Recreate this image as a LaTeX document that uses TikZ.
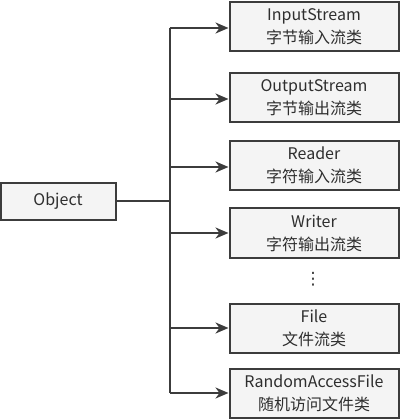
\documentclass[tikz,border=0pt]{standalone}
\usepackage{fontspec}
\setmainfont{Noto Sans CJK SC}
\newfontfamily\symfont{DejaVu Sans}
\usetikzlibrary{arrows.meta}
\definecolor{edge}{HTML}{3C3C3C}
\definecolor{boxfill}{HTML}{F4F4F4}
\definecolor{ink}{HTML}{2E2E2E}
\begin{document}
\begin{tikzpicture}[x=1pt,y=-1pt,
    every node/.style={draw=edge,fill=boxfill,line width=2pt,text=ink,align=center,inner sep=0pt,
        font=\fontsize{16}{23}\selectfont},
    classbox/.style={minimum width=169pt,minimum height=49pt},
    link/.style={draw=edge,line width=2pt},
    arr/.style={link,-{Stealth[length=13pt,width=11pt,inset=4pt]}}]
    \useasboundingbox (0,0) rectangle (400,419);
    \node[minimum width=115pt,minimum height=36pt] (obj) at (58,201.5) {Object};
    \node[classbox] (in) at (314,26.5) {InputStream\\字节输入流类};
    \node[classbox] (out) at (314,97.5) {OutputStream\\字节输出流类};
    \node[classbox] (rd) at (314,165.5) {Reader\\字符输入流类};
    \node[classbox] (wr) at (314,233) {Writer\\字符输出流类};
    \node[draw=none,fill=none,font=\symfont\fontsize{17}{20}\selectfont] (dots) at (313,279) {⋮};
    \node[classbox] (file) at (314,328) {File\\文件流类};
    \node[classbox] (raf) at (314,393) {RandomAccessFile\\随机访问文件类};
    \coordinate (top) at (169.5,28);
    \coordinate (bot) at (169.5,393);
    \draw[link] (top) -- (bot);
    \draw[link] (obj.east) -- (obj.east -| top);
    \draw[arr] (top) -- (top -| in.west);
    \draw[arr] (169.5,99) -- (out.west |- 0,99);
    \draw[arr] (169.5,167) -- (rd.west |- 0,167);
    \draw[arr] (wr.west -| top) -- (wr.west);
    \draw[arr] (file.west -| top) -- (file.west);
    \draw[arr] (bot) -- (raf.west);
\end{tikzpicture}
\end{document}
